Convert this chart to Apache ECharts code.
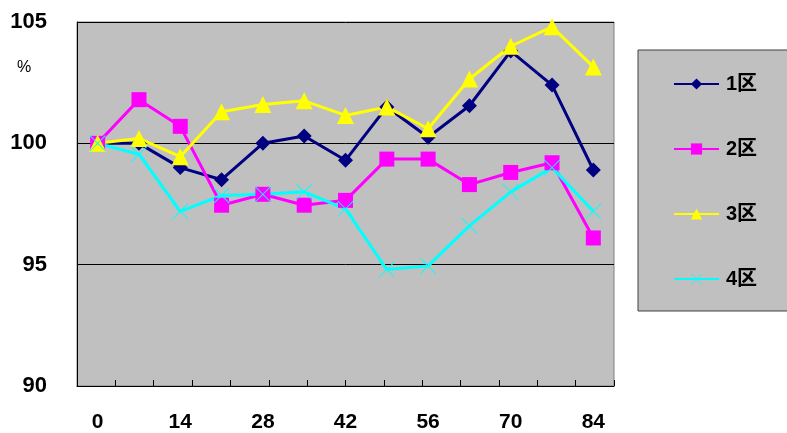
<!DOCTYPE html>
<html>
<head>
<meta charset="utf-8">
<script src="https://cdn.jsdelivr.net/npm/echarts@6/dist/echarts.min.js"></script>
<style>
  html, body { margin: 0; padding: 0; background: #fff; }
  #chart { width: 787px; height: 433px; }
</style>
</head>
<body>
<div id="chart"></div>
<script>
// Days on the horizontal axis
const days = ['0', '7', '14', '21', '28', '35', '42', '49', '56', '63', '70', '77', '84'];

// Relative values (%) for each district
const ku1 = [100.0, 100.0, 99.0, 98.5, 100.0, 100.3, 99.3, 101.5, 100.25, 101.55, 103.8, 102.4, 98.9];
const ku2 = [100.0, 101.8, 100.7, 97.45, 97.9, 97.45, 97.65, 99.35, 99.35, 98.3, 98.8, 99.2, 96.1];
const ku3 = [100.0, 100.2, 99.45, 101.3, 101.6, 101.75, 101.15, 101.5, 100.6, 102.65, 104.0, 104.8, 103.15];
const ku4 = [100.0, 99.55, 97.2, 97.85, 97.9, 98.0, 97.3, 94.8, 94.95, 96.6, 98.0, 99.0, 97.2];

const seriesNames = ['1区', '2区', '3区', '4区'];
const yTicks = { min: 90, max: 105, step: 5 };

const crossPath = 'path://M0,4 L4,0 L50,46 L96,0 L100,4 L54,50 L100,96 L96,100 L50,54 L4,100 L0,96 L46,50 Z';

const labelFont = '"Liberation Sans", "Noto Sans CJK JP", sans-serif';

function lineSeries(name, data, color, symbol, size, width) {
  return {
    name: name,
    type: 'line',
    data: data,
    xAxisIndex: 0,
    symbol: symbol,
    symbolSize: size,
    symbolKeepAspect: true,
    showAllSymbol: true,
    lineStyle: { color: color, width: width },
    itemStyle: { color: color, borderWidth: 0 },
    emphasis: { disabled: true },
    animation: false
  };
}

const chart = echarts.init(document.getElementById('chart'), null, { renderer: 'canvas' });
chart.setOption({
  backgroundColor: '#ffffff',
  animation: false,
  grid: {
    left: 77, top: 22, right: 173, bottom: 43,
    show: true,
    backgroundColor: '#c0c0c0',
    borderColor: '#808080',
    borderWidth: 1
  },
  legend: {
    orient: 'vertical',
    left: 638,
    top: 50,
    data: seriesNames,
    backgroundColor: '#c0c0c0',
    borderColor: '#404040',
    borderWidth: 1,
    borderRadius: 0,
    padding: [24, 60, 22, 35],
    itemWidth: 45,
    itemHeight: 14,
    itemGap: 45,
    lineStyle: { width: 2 },
    textStyle: { fontFamily: labelFont, fontWeight: 'bold', fontSize: 20, color: '#000', padding: [0, 0, 0, 2] },
    selectedMode: false
  },
  graphic: [{
    type: 'text',
    left: 17,
    top: 60,
    style: { text: '%', font: '16px "Liberation Sans", sans-serif', fill: '#000' }
  }],
  xAxis: [{
    type: 'category',
    data: days,
    boundaryGap: true,
    position: 'bottom',
    axisLine: { show: true, lineStyle: { color: '#000', width: 1 } },
    axisTick: { show: false },
    axisLabel: {
      interval: 1,
      margin: 26,
      fontFamily: labelFont,
      fontWeight: 'bold',
      fontSize: 21,
      color: '#000'
    },
    splitLine: { show: false }
  }, {
    type: 'value',
    min: 0,
    max: 14,
    interval: 1,
    position: 'bottom',
    axisLine: { show: false },
    axisTick: { show: true, inside: true, length: 6, lineStyle: { color: '#000', width: 1 } },
    axisLabel: { show: false },
    splitLine: { show: false }
  }],
  yAxis: {
    type: 'value',
    min: yTicks.min,
    max: yTicks.max,
    interval: yTicks.step,
    axisLine: { show: true, lineStyle: { color: '#000', width: 1 } },
    axisTick: { show: true, inside: true, length: 7, lineStyle: { color: '#000' } },
    axisLabel: {
      margin: 30,
      fontFamily: labelFont,
      fontWeight: 'bold',
      fontSize: 22,
      color: '#000'
    },
    splitLine: { show: true, lineStyle: { color: '#000', width: 1 } }
  },
  series: [
    lineSeries(seriesNames[0], ku1, '#000080', 'diamond', 15, 3),
    lineSeries(seriesNames[1], ku2, '#ff00ff', 'rect', 15, 3),
    lineSeries(seriesNames[2], ku3, '#ffff00', 'triangle', 17, 3),
    lineSeries(seriesNames[3], ku4, '#00ffff', crossPath, 16, 3)
  ]
});
</script>
</body>
</html>
